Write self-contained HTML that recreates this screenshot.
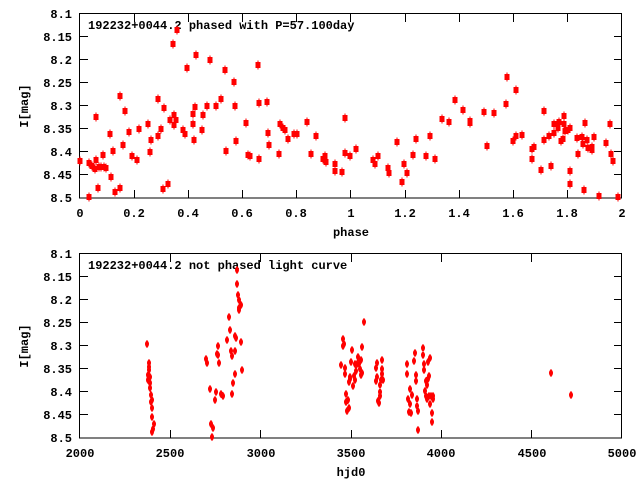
<!DOCTYPE html>
<html><head><meta charset="utf-8"><style>
html,body{margin:0;padding:0;background:#fff}
svg{display:block}
text{font-family:"Liberation Mono",monospace;font-weight:bold;font-size:12px;fill:#000}
</style></head><body>
<svg width="640" height="480" viewBox="0 0 640 480" xmlns="http://www.w3.org/2000/svg">
<defs>
<g id="a"><rect x="-2.5" y="-3" width="5" height="6" fill="#f00"/><rect x="-0.5" y="-4.5" width="1" height="9" fill="#f00"/></g>
<g id="b"><ellipse cx="0" cy="0" rx="2" ry="3.2" fill="#f00"/><rect x="-0.5" y="-4" width="1" height="8" fill="#f00"/></g>
</defs>
<!-- top frame -->
<rect x="79.5" y="13.5" width="542" height="184.5" fill="none" stroke="#000" stroke-width="1"/>
<g stroke="#000" stroke-width="1">
<path d="M80 36.5h8M80 59.5h8M80 82.5h8M80 105.5h8M80 128.5h8M80 151.5h8M80 174.5h8M622 36.5h-8M622 59.5h-8M622 82.5h-8M622 105.5h-8M622 128.5h-8M622 151.5h-8M622 174.5h-8"/>
<path d="M134.5 198v-8M188.5 198v-8M242.5 198v-8M296.5 198v-8M350.5 198v-8M405.5 198v-8M459.5 198v-8M513.5 198v-8M567.5 198v-8M134.5 14v8M188.5 14v8M242.5 14v8M296.5 14v8M350.5 14v8M405.5 14v8M459.5 14v8M513.5 14v8M567.5 14v8"/>
</g>
<g text-anchor="end">
<text x="72" y="18">8.1</text><text x="72" y="41">8.15</text><text x="72" y="64">8.2</text><text x="72" y="87">8.25</text><text x="72" y="110">8.3</text><text x="72" y="133">8.35</text><text x="72" y="156">8.4</text><text x="72" y="179">8.45</text><text x="72" y="202">8.5</text>
</g>
<g text-anchor="middle">
<text x="80" y="217">0</text><text x="134" y="217">0.2</text><text x="188" y="217">0.4</text><text x="242" y="217">0.6</text><text x="296" y="217">0.8</text><text x="351" y="217">1</text><text x="405" y="217">1.2</text><text x="459" y="217">1.4</text><text x="513" y="217">1.6</text><text x="567" y="217">1.8</text><text x="622" y="217">2</text>
<text x="351" y="236">phase</text>
<text x="0" y="0" transform="translate(28,106) rotate(-90)">I[mag]</text>
<text x="0" y="0" transform="translate(28,346) rotate(-90)">I[mag]</text>
<text x="351" y="476">hjd0</text>
</g>
<text x="88" y="29">192232+0044.2 phased with P=57.100day</text>
<g>
<use href="#a" x="80" y="161"/><use href="#a" x="89" y="163"/><use href="#a" x="89" y="197"/><use href="#a" x="92" y="166"/><use href="#a" x="95" y="169"/><use href="#a" x="96" y="160"/><use href="#a" x="96" y="117"/><use href="#a" x="98" y="188"/><use href="#a" x="99" y="167"/><use href="#a" x="101" y="167"/><use href="#a" x="103" y="155"/><use href="#a" x="104" y="167"/><use href="#a" x="106" y="168"/><use href="#a" x="110" y="134"/><use href="#a" x="111" y="177"/><use href="#a" x="113" y="151"/><use href="#a" x="115" y="192"/><use href="#a" x="120" y="188"/><use href="#a" x="120" y="96"/><use href="#a" x="123" y="145"/><use href="#a" x="125" y="111"/><use href="#a" x="129" y="132"/><use href="#a" x="132" y="156"/><use href="#a" x="137" y="160"/><use href="#a" x="139" y="129"/><use href="#a" x="148" y="124"/><use href="#a" x="150" y="152"/><use href="#a" x="151" y="140"/><use href="#a" x="158" y="136"/><use href="#a" x="158" y="99"/><use href="#a" x="161" y="129"/><use href="#a" x="163" y="189"/><use href="#a" x="164" y="108"/><use href="#a" x="168" y="184"/><use href="#a" x="170" y="120"/><use href="#a" x="173" y="44"/><use href="#a" x="174" y="115"/><use href="#a" x="174" y="125"/><use href="#a" x="176" y="120"/><use href="#a" x="177" y="30"/><use href="#a" x="183" y="130"/><use href="#a" x="185" y="134"/><use href="#a" x="187" y="68"/><use href="#a" x="193" y="114"/><use href="#a" x="193" y="124"/><use href="#a" x="194" y="140"/><use href="#a" x="195" y="107"/><use href="#a" x="196" y="55"/><use href="#a" x="202" y="130"/><use href="#a" x="203" y="115"/><use href="#a" x="207" y="106"/><use href="#a" x="210" y="60"/><use href="#a" x="216" y="106"/><use href="#a" x="221" y="99"/><use href="#a" x="225" y="70"/><use href="#a" x="226" y="151"/><use href="#a" x="234" y="82"/><use href="#a" x="235" y="106"/><use href="#a" x="236" y="141"/><use href="#a" x="246" y="123"/><use href="#a" x="248" y="155"/><use href="#a" x="250" y="156"/><use href="#a" x="258" y="65"/><use href="#a" x="259" y="103"/><use href="#a" x="259" y="159"/><use href="#a" x="267" y="102"/><use href="#a" x="268" y="133"/><use href="#a" x="269" y="145"/><use href="#a" x="279" y="154"/><use href="#a" x="280" y="124"/><use href="#a" x="283" y="128"/><use href="#a" x="285" y="130"/><use href="#a" x="288" y="139"/><use href="#a" x="294" y="134"/><use href="#a" x="297" y="134"/><use href="#a" x="307" y="122"/><use href="#a" x="311" y="154"/><use href="#a" x="316" y="136"/><use href="#a" x="323" y="159"/><use href="#a" x="325" y="156"/><use href="#a" x="326" y="162"/><use href="#a" x="335" y="164"/><use href="#a" x="335" y="171"/>
<use href="#a" x="342" y="172"/><use href="#a" x="345" y="118"/><use href="#a" x="345" y="153"/><use href="#a" x="350" y="156"/><use href="#a" x="356" y="149"/><use href="#a" x="373" y="160"/><use href="#a" x="375" y="164"/><use href="#a" x="378" y="156"/><use href="#a" x="388" y="168"/><use href="#a" x="389" y="173"/><use href="#a" x="397" y="142"/><use href="#a" x="402" y="182"/><use href="#a" x="404" y="164"/><use href="#a" x="407" y="173"/><use href="#a" x="413" y="155"/><use href="#a" x="416" y="139"/><use href="#a" x="426" y="156"/><use href="#a" x="430" y="136"/><use href="#a" x="435" y="159"/><use href="#a" x="442" y="119"/><use href="#a" x="449" y="122"/><use href="#a" x="455" y="100"/><use href="#a" x="463" y="110"/><use href="#a" x="470" y="121"/><use href="#a" x="470" y="123"/><use href="#a" x="484" y="112"/><use href="#a" x="487" y="146"/><use href="#a" x="494" y="113"/><use href="#a" x="506" y="104"/><use href="#a" x="507" y="77"/><use href="#a" x="513" y="141"/><use href="#a" x="516" y="90"/><use href="#a" x="516" y="136"/><use href="#a" x="522" y="135"/><use href="#a" x="532" y="149"/><use href="#a" x="532" y="159"/><use href="#a" x="534" y="147"/><use href="#a" x="541" y="170"/><use href="#a" x="544" y="111"/><use href="#a" x="544" y="140"/><use href="#a" x="549" y="136"/><use href="#a" x="551" y="166"/><use href="#a" x="554" y="124"/><use href="#a" x="554" y="133"/><use href="#a" x="558" y="128"/><use href="#a" x="559" y="122"/><use href="#a" x="561" y="141"/><use href="#a" x="563" y="139"/><use href="#a" x="564" y="116"/><use href="#a" x="564" y="124"/><use href="#a" x="565" y="131"/><use href="#a" x="568" y="130"/><use href="#a" x="570" y="128"/><use href="#a" x="570" y="171"/><use href="#a" x="570" y="184"/><use href="#a" x="577" y="138"/><use href="#a" x="578" y="154"/><use href="#a" x="582" y="137"/><use href="#a" x="583" y="144"/><use href="#a" x="584" y="190"/><use href="#a" x="585" y="123"/><use href="#a" x="587" y="140"/><use href="#a" x="588" y="148"/><use href="#a" x="592" y="147"/><use href="#a" x="592" y="150"/><use href="#a" x="594" y="137"/><use href="#a" x="599" y="196"/><use href="#a" x="606" y="143"/><use href="#a" x="610" y="124"/><use href="#a" x="611" y="154"/><use href="#a" x="613" y="161"/><use href="#a" x="618" y="197"/>
</g>

<!-- bottom frame -->
<rect x="79.5" y="253.5" width="542" height="184.5" fill="none" stroke="#000" stroke-width="1"/>
<g stroke="#000" stroke-width="1">
<path d="M80 276.5h8M80 299.5h8M80 322.5h8M80 345.5h8M80 368.5h8M80 391.5h8M80 414.5h8M622 276.5h-8M622 299.5h-8M622 322.5h-8M622 345.5h-8M622 368.5h-8M622 391.5h-8M622 414.5h-8"/>
<path d="M170.5 438v-8M260.5 438v-8M351.5 438v-8M441.5 438v-8M531.5 438v-8M170.5 254v8M260.5 254v8M351.5 254v8M441.5 254v8M531.5 254v8"/>
</g>
<g text-anchor="end">
<text x="72" y="258">8.1</text><text x="72" y="281">8.15</text><text x="72" y="304">8.2</text><text x="72" y="327">8.25</text><text x="72" y="350">8.3</text><text x="72" y="373">8.35</text><text x="72" y="396">8.4</text><text x="72" y="419">8.45</text><text x="72" y="442">8.5</text>
</g>
<g text-anchor="middle">
<text x="80" y="457">2000</text><text x="170" y="457">2500</text><text x="261" y="457">3000</text><text x="351" y="457">3500</text><text x="441" y="457">4000</text><text x="532" y="457">4500</text><text x="622" y="457">5000</text>
</g>
<text x="88" y="269">192232+0044.2 not phased light curve</text>
<g>
<use href="#b" x="147" y="344"/><use href="#b" x="149" y="363"/><use href="#b" x="149" y="367"/><use href="#b" x="148" y="375"/><use href="#b" x="149" y="370"/><use href="#b" x="150" y="377"/><use href="#b" x="150" y="383"/><use href="#b" x="150" y="388"/><use href="#b" x="151" y="395"/><use href="#b" x="152" y="400"/><use href="#b" x="152" y="408"/><use href="#b" x="152" y="417"/><use href="#b" x="154" y="424"/><use href="#b" x="153" y="429"/><use href="#b" x="152" y="432"/><use href="#b" x="148" y="380"/><use href="#b" x="151" y="402"/>
<use href="#b" x="206" y="359"/><use href="#b" x="207" y="363"/><use href="#b" x="210" y="389"/><use href="#b" x="211" y="424"/><use href="#b" x="213" y="428"/><use href="#b" x="212" y="437"/><use href="#b" x="215" y="400"/><use href="#b" x="216" y="392"/><use href="#b" x="217" y="354"/><use href="#b" x="218" y="355"/><use href="#b" x="218" y="346"/><use href="#b" x="219" y="363"/><use href="#b" x="221" y="394"/><use href="#b" x="223" y="396"/><use href="#b" x="227" y="340"/><use href="#b" x="229" y="317"/><use href="#b" x="230" y="330"/><use href="#b" x="231" y="351"/><use href="#b" x="232" y="356"/><use href="#b" x="232" y="394"/><use href="#b" x="233" y="383"/><use href="#b" x="235" y="351"/><use href="#b" x="235" y="336"/><use href="#b" x="235" y="374"/><use href="#b" x="236" y="338"/><use href="#b" x="237" y="270"/><use href="#b" x="237" y="284"/><use href="#b" x="238" y="295"/><use href="#b" x="239" y="300"/><use href="#b" x="239" y="308"/><use href="#b" x="239" y="310"/><use href="#b" x="241" y="305"/><use href="#b" x="241" y="342"/><use href="#b" x="242" y="370"/>
<use href="#b" x="341" y="365"/><use href="#b" x="343" y="339"/><use href="#b" x="343" y="346"/><use href="#b" x="344" y="344"/><use href="#b" x="345" y="368"/><use href="#b" x="345" y="374"/><use href="#b" x="346" y="394"/><use href="#b" x="346" y="402"/><use href="#b" x="347" y="411"/><use href="#b" x="348" y="400"/><use href="#b" x="349" y="408"/><use href="#b" x="349" y="382"/><use href="#b" x="350" y="377"/><use href="#b" x="350" y="379"/><use href="#b" x="351" y="362"/><use href="#b" x="352" y="350"/><use href="#b" x="353" y="386"/><use href="#b" x="354" y="376"/><use href="#b" x="355" y="364"/><use href="#b" x="355" y="380"/><use href="#b" x="356" y="371"/><use href="#b" x="357" y="364"/><use href="#b" x="358" y="357"/><use href="#b" x="359" y="364"/><use href="#b" x="360" y="369"/><use href="#b" x="361" y="360"/><use href="#b" x="361" y="375"/><use href="#b" x="362" y="347"/><use href="#b" x="362" y="373"/><use href="#b" x="364" y="322"/>
<use href="#b" x="376" y="368"/><use href="#b" x="376" y="381"/><use href="#b" x="377" y="363"/><use href="#b" x="377" y="377"/><use href="#b" x="378" y="401"/><use href="#b" x="379" y="403"/><use href="#b" x="380" y="385"/><use href="#b" x="380" y="392"/><use href="#b" x="380" y="396"/><use href="#b" x="381" y="380"/><use href="#b" x="382" y="360"/><use href="#b" x="382" y="369"/><use href="#b" x="382" y="374"/><use href="#b" x="383" y="380"/>
<use href="#b" x="407" y="364"/><use href="#b" x="407" y="374"/><use href="#b" x="408" y="399"/><use href="#b" x="409" y="412"/><use href="#b" x="410" y="389"/><use href="#b" x="410" y="404"/><use href="#b" x="411" y="413"/><use href="#b" x="412" y="395"/><use href="#b" x="414" y="361"/><use href="#b" x="415" y="353"/><use href="#b" x="416" y="375"/><use href="#b" x="416" y="381"/><use href="#b" x="417" y="399"/><use href="#b" x="417" y="406"/><use href="#b" x="418" y="411"/><use href="#b" x="418" y="430"/><use href="#b" x="423" y="348"/><use href="#b" x="423" y="355"/><use href="#b" x="424" y="364"/><use href="#b" x="424" y="370"/><use href="#b" x="425" y="391"/><use href="#b" x="426" y="381"/><use href="#b" x="426" y="396"/><use href="#b" x="427" y="385"/><use href="#b" x="427" y="399"/><use href="#b" x="428" y="379"/><use href="#b" x="428" y="362"/><use href="#b" x="429" y="376"/><use href="#b" x="429" y="396"/><use href="#b" x="430" y="358"/><use href="#b" x="430" y="404"/><use href="#b" x="431" y="396"/><use href="#b" x="432" y="413"/><use href="#b" x="432" y="422"/><use href="#b" x="433" y="399"/><use href="#b" x="433" y="396"/>
<use href="#b" x="551" y="373"/><use href="#b" x="571" y="395"/>
</g>
</svg>
</body></html>
